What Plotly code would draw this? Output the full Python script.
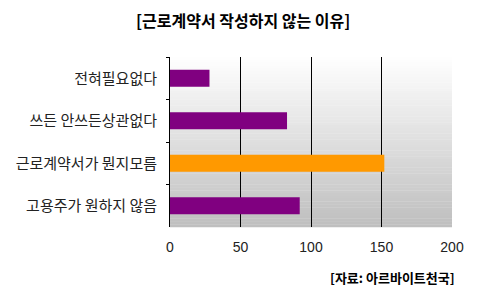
import plotly.graph_objects as go

categories = ["전혀필요없다", "쓰든 안쓰든상관없다", "근로계약서가 뭔지모름", "고용주가 원하지 않음"]
values = [28, 83, 152, 92]
colors = ["#800080", "#800080", "#FF9900", "#800080"]
x_ticks = [0, 50, 100, 150, 200]
title_text = "[근로계약서 작성하지 않는 이유]"
source_text = "[자료: 아르바이트천국]"

KFONT = "Noto Sans CJK KR"

fig = go.Figure()
fig.add_trace(go.Bar(
    y=categories, x=values, orientation="h",
    marker=dict(color=colors, line=dict(width=0)),
    width=0.4,
))

# vertical gradient background in plot area
shapes = []
n = 60
top = (255, 255, 255)
bot = (190, 190, 190)
for i in range(n):
    t = (i + 0.5) / n
    c = tuple(int(round(top[k] + (bot[k] - top[k]) * t)) for k in range(3))
    shapes.append(dict(
        type="rect", xref="x domain", yref="y domain",
        x0=0, x1=1, y0=1 - (i + 1) / n - 0.002, y1=1 - i / n,
        fillcolor="rgb(%d,%d,%d)" % c, line=dict(width=0), layer="below",
    ))

fig.update_layout(
    width=480, height=290,
    margin=dict(l=170, r=28, t=57, b=63),
    paper_bgcolor="white", plot_bgcolor="rgba(0,0,0,0)",
    showlegend=False,
    shapes=shapes,
    bargap=0.6,
    font=dict(family=KFONT, color="#222"),
    xaxis=dict(
        range=[0, 200], tickvals=x_ticks, showgrid=True, gridcolor="black", gridwidth=1,
        zeroline=False, showline=False, ticks="", tickfont=dict(size=14, color="#222", family="Liberation Sans"),
        ticklabelstandoff=10,
        layer="below traces",
    ),
    yaxis=dict(
        autorange="reversed", showline=True, linecolor="black", linewidth=1,
        ticks="outside", ticklen=3, tickcolor="black", tickson="boundaries",
        tickfont=dict(size=15, color="#222", family=KFONT), ticklabelstandoff=9,
        showgrid=False,
    ),
    annotations=[
        dict(text="<b>" + title_text + "</b>", xref="paper", yref="paper",
             x=0.26, y=1, xshift=0, yshift=37, showarrow=False,
             font=dict(size=16, color="black", family=KFONT), xanchor="center", yanchor="middle"),
        dict(text="<b>" + source_text + "</b>", xref="paper", yref="paper",
             x=1, y=0, xshift=5, yshift=-50, showarrow=False,
             font=dict(size=13, color="black", family=KFONT), xanchor="right", yanchor="middle"),
    ],
)

fig.write_html("out.html")
